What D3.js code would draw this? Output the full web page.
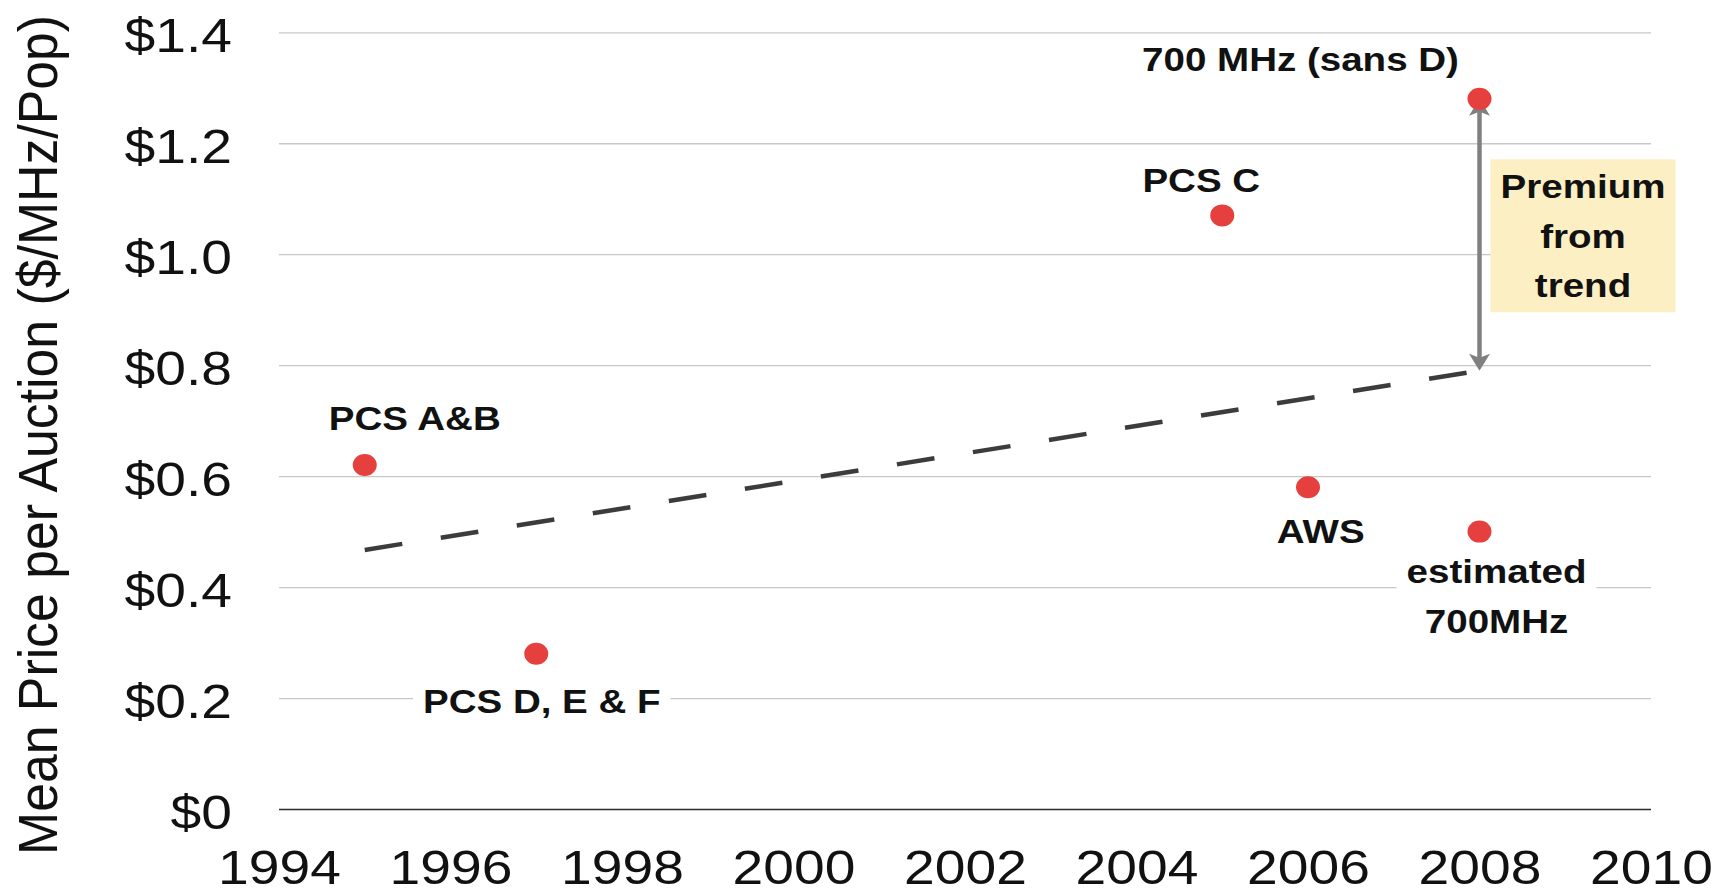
<!DOCTYPE html>
<html>
<head>
<meta charset="utf-8">
<script src="https://cdn.jsdelivr.net/npm/d3@7"></script>
<style>
  html, body { margin: 0; padding: 0; background: #fff; }
  svg { display: block; font-family: "Liberation Sans", Arial, Helvetica, sans-serif; }
</style>
</head>
<body>
<svg id="chart" width="1728" height="894"></svg>
<script>
// Auction prices per year
const auctionYears = [1995, 1997, 2005, 2006, 2008, 2008];
const auctionPrices = [0.62, 0.28, 1.07, 0.58, 1.28, 0.50];
const auctionNames = [["PCS A&B"], ["PCS D, E & F"], ["PCS C"], ["AWS"], ["700 MHz (sans D)"], ["estimated", "700MHz"]];

// trend line end points
const trendYears = [1995, 2008];
const trendPrices = [0.467, 0.79];

const premiumLines = ["Premium", "from", "trend"];

const yTicks = [0, 0.2, 0.4, 0.6, 0.8, 1.0, 1.2, 1.4];
const xTicks = [1994, 1996, 1998, 2000, 2002, 2004, 2006, 2008, 2010];
const yTitle = "Mean Price per Auction ($/MHz/Pop)";

// label offsets from their dot (px)
const labelOffsets = [[50, -35], [5.5, 59], [-21, -23.7], [12.7, 55.5], [-179, -28.2], [17, 51.4]];

const W = 1728, H = 894;
const margin = { top: 32.3, right: 77, bottom: 85, left: 279 };
const innerW = W - margin.left - margin.right;
const innerH = H - margin.top - margin.bottom;
const SX = 1.15; // source picture is stretched horizontally

const svg = d3.select("#chart");
const g = svg.append("g").attr("transform", `translate(${margin.left},${margin.top})`);

const x = d3.scaleLinear().domain([1994, 2010]).range([0, innerW]);
const y = d3.scaleLinear().domain([0, 1.4]).range([innerH, 0]);

const fmtY = d => d === 0 ? "$0" : "$" + d.toFixed(1);

// y grid + labels
const yAxis = g.append("g")
  .call(d3.axisLeft(y).tickValues(yTicks).tickSize(-innerW).tickFormat(fmtY));
yAxis.select(".domain").remove();
yAxis.selectAll(".tick line")
  .attr("stroke", d => d === 0 ? "#2a2a2a" : "#c8c8c8")
  .attr("stroke-width", d => d === 0 ? 1.6 : 1.3);
yAxis.selectAll(".tick text")
  .attr("x", 0).attr("dy", null)
  .attr("transform", `translate(-47,19) scale(${SX},1)`)
  .attr("font-size", 48).attr("fill", "#111")
  .attr("font-family", null);

// x labels
const xAxis = g.append("g")
  .attr("transform", `translate(0,${innerH})`)
  .call(d3.axisBottom(x).tickValues(xTicks).tickSize(0).tickFormat(d3.format("d")));
xAxis.select(".domain").remove();
xAxis.selectAll(".tick text")
  .attr("y", 0).attr("dy", null)
  .attr("transform", `translate(0,74.5) scale(${SX},1)`)
  .attr("font-size", 48).attr("fill", "#111")
  .attr("font-family", null);

// y title
svg.append("g")
  .attr("transform", `translate(57,435) scale(1.1,1) rotate(-90)`)
  .append("text")
  .attr("text-anchor", "middle")
  .attr("font-size", 50)
  .attr("fill", "#111")
  .attr("textLength", 840)
  .attr("lengthAdjust", "spacingAndGlyphs")
  .text(yTitle);

// trend line
const trendLine = d3.line().x(d => x(d[0])).y(d => y(d[1]));
g.append("path")
  .datum(d3.zip(trendYears, trendPrices))
  .attr("d", trendLine)
  .attr("fill", "none")
  .attr("stroke", "#3c3c3c")
  .attr("stroke-width", 4.5)
  .attr("stroke-dasharray", "38 39");

// labels with white backing
const labelLayer = g.append("g");
auctionNames.forEach((lines, i) => {
  const px = x(auctionYears[i]) + labelOffsets[i][0];
  const py = y(auctionPrices[i]) + labelOffsets[i][1];
  const outer = labelLayer.append("g");
  const bg = outer.append("rect").attr("fill", "#fff");
  const inner = outer.append("g").attr("transform", `translate(${px},${py}) scale(${SX},1)`);
  lines.forEach((ln, k) => {
    inner.append("text")
      .attr("y", k * 50)
      .attr("text-anchor", "middle")
      .attr("font-size", 33.5)
      .attr("font-weight", "bold")
      .attr("fill", "#111")
      .text(ln);
  });
  const bb = inner.node().getBBox();
  const w = bb.width * SX;
  bg.attr("x", px - w / 2 - 10).attr("width", w + 20)
    .attr("y", py + bb.y).attr("height", bb.height);
});

// premium arrow
const ax = x(2008);
const aTop = y(auctionPrices[4]);
const aBot = y(trendPrices[1]);
const arrowColor = "#808080";
g.append("line")
  .attr("x1", ax).attr("x2", ax)
  .attr("y1", aTop + 12).attr("y2", aBot - 12)
  .attr("stroke", arrowColor).attr("stroke-width", 4.5);
const head = (tip, dir) => {
  const p = d3.path();
  p.moveTo(ax, tip);
  p.lineTo(ax - 10.5, tip + dir * 17);
  p.lineTo(ax, tip + dir * 13);
  p.lineTo(ax + 10.5, tip + dir * 17);
  p.closePath();
  return p.toString();
};
g.append("path").attr("d", head(aTop, 1)).attr("fill", arrowColor);
g.append("path").attr("d", head(aBot, -1)).attr("fill", arrowColor);

// premium box
const boxW = 185, boxH = 153;
const boxX = ax + 11;
const boxY = (aTop + aBot) / 2 - boxH / 2 + 1;
g.append("rect")
  .attr("x", boxX).attr("y", boxY)
  .attr("width", boxW).attr("height", boxH)
  .attr("fill", "#fcefc4");
premiumLines.forEach((ln, k) => {
  g.append("g")
    .attr("transform", `translate(${boxX + boxW / 2},${boxY + 39 + k * 49.5}) scale(${SX},1)`)
    .append("text")
    .attr("text-anchor", "middle")
    .attr("font-size", 33.5)
    .attr("font-weight", "bold")
    .attr("fill", "#111")
    .text(ln);
});

// dots
g.append("g")
  .selectAll("ellipse")
  .data(d3.zip(auctionYears, auctionPrices))
  .join("ellipse")
  .attr("cx", d => x(d[0]))
  .attr("cy", d => y(d[1]))
  .attr("rx", 12)
  .attr("ry", 11)
  .attr("fill", "#e5403d");
</script>
</body>
</html>
